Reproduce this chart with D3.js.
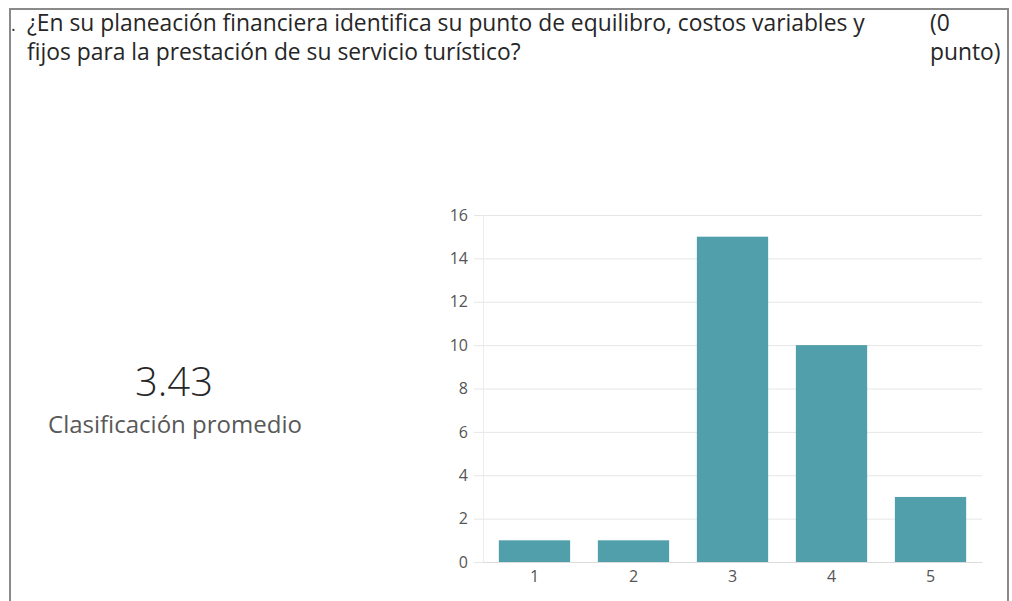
<!DOCTYPE html>
<html>
<head>
<meta charset="utf-8">
<script src="https://cdn.jsdelivr.net/npm/d3@7"></script>
<style>
  html, body { margin: 0; padding: 0; background: #fff; }
  svg { display: block; font-family: "Open Sans", "Noto Sans", sans-serif; }
  .axis text { font-size: 16px; fill: #555; font-family: "Open Sans", "Noto Sans", sans-serif; }
</style>
</head>
<body>
<div id="chart"></div>
<script>
// data
const ratings = ['1', '2', '3', '4', '5'];
const counts = [1, 1, 15, 10, 3];
const yTicks = [0, 2, 4, 6, 8, 10, 12, 14, 16];
const questionLines = [
  '¿En su planeación financiera identifica su punto de equilibro, costos variables y',
  'fijos para la prestación de su servicio turístico?'
];
const pointsLines = ['(0', 'punto)'];
const average = '3.43';
const averageLabel = 'Clasificación promedio';

const W = 1012;
const H = 601;

const svg = d3.select('#chart').append('svg')
  .attr('width', W)
  .attr('height', H);

// card border (top, left, right)
svg.append('path')
  .attr('d', `M10,${H} V9 H1008 V${H}`)
  .attr('fill', 'none')
  .attr('stroke', '#8a8a8a')
  .attr('stroke-width', 2);

// question number remnant
svg.append('text')
  .attr('x', 11).attr('y', 31)
  .attr('font-size', 18).attr('fill', '#333')
  .text('.');

// fit a text element to a target width
function fitWidth(sel, target) {
  const w = sel.node().getComputedTextLength();
  const fs = +sel.attr('font-size');
  sel.attr('font-size', fs * target / w);
}

const q1 = svg.append('text')
  .attr('x', 27).attr('y', 31)
  .attr('font-size', 19).attr('fill', '#262626')
  .text(questionLines[0]);
fitWidth(q1, 838);

svg.append('text')
  .attr('x', 27).attr('y', 60)
  .attr('font-size', q1.attr('font-size')).attr('fill', '#262626')
  .text(questionLines[1]);

svg.selectAll('.pts')
  .data(pointsLines)
  .enter().append('text')
    .attr('class', 'pts')
    .attr('x', 930)
    .attr('y', (d, i) => 31 + i * 29)
    .attr('font-size', q1.attr('font-size'))
    .attr('fill', '#262626')
    .text(d => d);

// average block
const avg = svg.append('text')
  .attr('x', 174).attr('y', 396)
  .attr('text-anchor', 'middle')
  .attr('font-size', 38).attr('font-weight', 300)
  .attr('fill', '#262626')
  .text(average);
fitWidth(avg, 78);

const avgLab = svg.append('text')
  .attr('x', 175).attr('y', 433)
  .attr('text-anchor', 'middle')
  .attr('font-size', 19)
  .attr('fill', '#595959')
  .text(averageLabel);
fitWidth(avgLab, 254);

// bar chart
const margin = { top: 215, right: 30, bottom: 39, left: 483 };
const width = 982 - margin.left;
const height = 562 - margin.top;

const g = svg.append('g')
  .attr('transform', `translate(${margin.left}, ${margin.top})`);

const x = d3.scaleBand()
  .domain(ratings)
  .range([0, width])
  .paddingInner(0.28)
  .paddingOuter(0.16);

const y = d3.scaleLinear()
  .domain([0, 16])
  .range([height, 0]);

// gridlines + y axis
const yAxis = g.append('g')
  .attr('class', 'axis')
  .call(d3.axisLeft(y).tickValues(yTicks).tickSize(-width - 9).tickPadding(7));
yAxis.select('.domain').remove();
yAxis.selectAll('.tick line')
  .attr('x1', -9)
  .attr('x2', width)
  .attr('stroke', '#e6e6e6');
yAxis.selectAll('.tick text')
  .attr('x', -15);

// faint vertical axis line
g.append('line')
  .attr('x1', 0.5).attr('x2', 0.5)
  .attr('y1', 0).attr('y2', height)
  .attr('stroke', '#ececec');

g.selectAll('.bar')
  .data(counts)
  .enter().append('rect')
    .attr('class', 'bar')
    .attr('x', (d, i) => x(ratings[i]))
    .attr('y', d => y(d))
    .attr('width', x.bandwidth())
    .attr('height', d => height - y(d))
    .attr('fill', '#519faa');

// x axis
const xAxis = g.append('g')
  .attr('class', 'axis')
  .attr('transform', `translate(0, ${height})`)
  .call(d3.axisBottom(x).tickSize(0).tickPadding(9));
xAxis.select('.domain')
  .attr('stroke', '#dcdcdc');
</script>
</body>
</html>
